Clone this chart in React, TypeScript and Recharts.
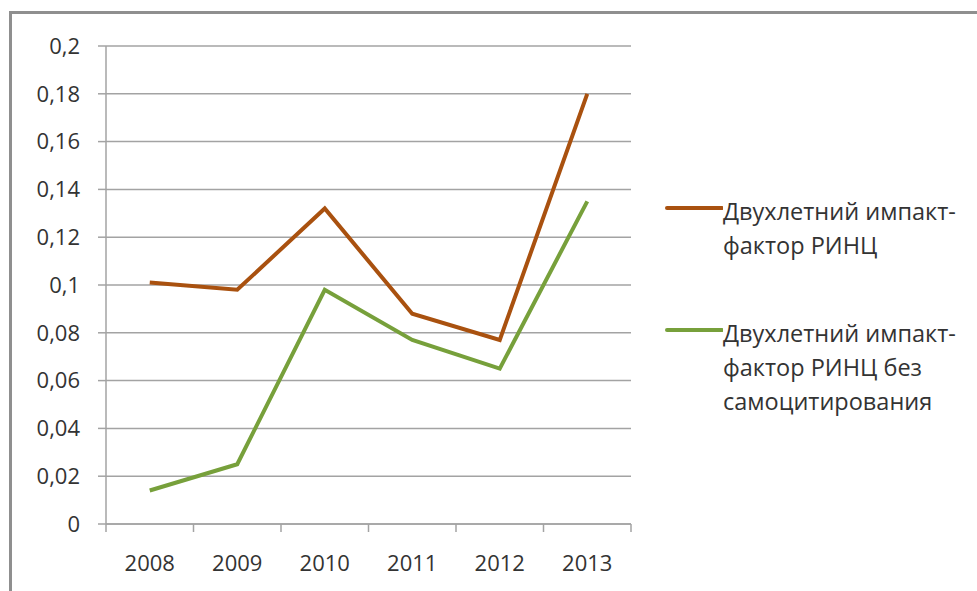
import React from 'react';
import { LineChart, Line, XAxis, YAxis, CartesianGrid, Legend } from 'recharts';

const years = ['2008', '2009', '2010', '2011', '2012', '2013'];
const rincValues = [0.101, 0.098, 0.132, 0.088, 0.077, 0.18];
const rincNoSelfValues = [0.014, 0.025, 0.098, 0.077, 0.065, 0.135];
const yTicks = [0, 0.02, 0.04, 0.06, 0.08, 0.1, 0.12, 0.14, 0.16, 0.18, 0.2];
const seriesNames = ['Двухлетний импакт-\nфактор РИНЦ', 'Двухлетний импакт-\nфактор РИНЦ без\nсамоцитирования'];
const seriesColors = ['#A9510F', '#77A03B'];

const data = years.map((y, i) => ({ year: y, rinc: rincValues[i], rincNoSelf: rincNoSelfValues[i] }));

const FONT = '"Open Sans", "Noto Sans", sans-serif';
const TEXT = '#333333';
const GRID = '#a3a3a3';

const fmt = (v: number) => String(+v.toFixed(2)).replace('.', ',');

const XTick = (props: any) => {
  const { x, y, payload, index, visibleTicksCount } = props;
  const off = payload && typeof payload.offset === 'number' ? payload.offset : 0;
  const last = index === visibleTicksCount - 1;
  return (
    <g>
      <line x1={x - off} x2={x - off} y1={y} y2={y + 8} stroke={GRID} strokeWidth={1.5} />
      {last && <line x1={x + off} x2={x + off} y1={y} y2={y + 8} stroke={GRID} strokeWidth={1.5} />}
      <text x={x} y={y + 47} textAnchor="middle" fill={TEXT} fontSize={22} fontFamily={FONT}>
        {payload.value}
      </text>
    </g>
  );
};

const renderLegend = (props: any) => {
  const { payload } = props;
  return (
    <div style={{ fontFamily: FONT, fontSize: 23.5, color: TEXT }}>
      {payload.map((entry: any, i: number) => (
        <div key={i} style={{ display: 'flex', alignItems: 'flex-start', marginBottom: 54 }}>
          <svg width={58} height={34} style={{ flex: 'none' }}>
            <line x1={2} x2={57} y1={14} y2={14} stroke={entry.color} strokeWidth={4} strokeLinecap="round" />
          </svg>
          <div style={{ whiteSpace: 'pre', lineHeight: '34px' }}>{entry.value}</div>
        </div>
      ))}
    </div>
  );
};

export default function App() {
  return (
    <div style={{ position: 'absolute', left: 0, top: 0, width: 977, height: 591, background: '#fff', overflow: 'hidden' }}>
      <div
        style={{
          position: 'absolute',
          left: 9,
          top: 11,
          width: 980,
          height: 600,
          borderTop: '3px solid #8f8f8f',
          borderLeft: '3px solid #8f8f8f',
          boxSizing: 'border-box',
        }}
      />
      <div style={{ position: 'absolute', left: 0, top: 0 }}>
        <LineChart width={977} height={591} data={data} margin={{ top: 46, right: 346, left: 10, bottom: 0 }}>
          <CartesianGrid vertical={false} stroke={GRID} strokeWidth={1.5} />
          <XAxis
            dataKey="year"
            scale="band"
            height={67}
            tickSize={0}
            tickMargin={0}
            tickLine={false}
            axisLine={{ stroke: GRID, strokeWidth: 1.5 }}
            tick={<XTick />}
            interval={0}
          />
          <YAxis
            domain={[0, 0.2]}
            ticks={yTicks}
            width={96}
            tickSize={8}
            tickMargin={18}
            tickFormatter={fmt}
            axisLine={{ stroke: GRID, strokeWidth: 1.5 }}
            tickLine={{ stroke: GRID, strokeWidth: 1.5 }}
            tick={{ fill: TEXT, fontSize: 22, fontFamily: FONT }}
            interval={0}
          />
          <Legend
            layout="vertical"
            align="center"
            verticalAlign="middle"
            wrapperStyle={{ left: 665, top: 194, width: 312 }}
            content={renderLegend}
          />
          <Line
            dataKey="rinc"
            name={seriesNames[0]}
            stroke={seriesColors[0]}
            strokeWidth={4}
            dot={false}
            activeDot={false}
            isAnimationActive={false}
          />
          <Line
            dataKey="rincNoSelf"
            name={seriesNames[1]}
            stroke={seriesColors[1]}
            strokeWidth={4}
            dot={false}
            activeDot={false}
            isAnimationActive={false}
          />
        </LineChart>
      </div>
    </div>
  );
}
